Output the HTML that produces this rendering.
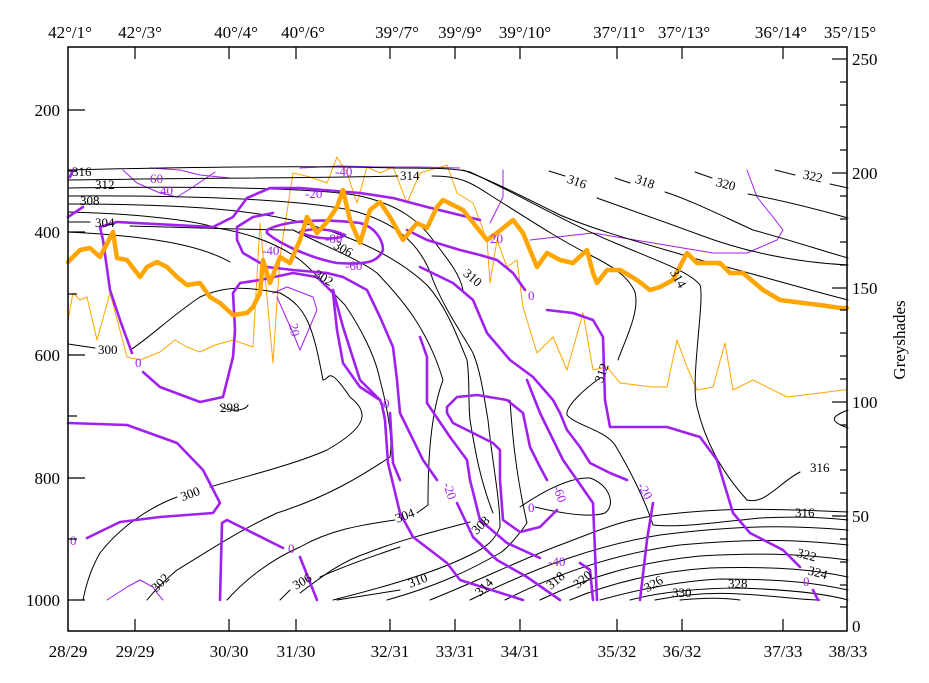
<!DOCTYPE html>
<html><head><meta charset="utf-8"><style>
body{margin:0;background:#fff}
svg{display:block}
text{font-family:"Liberation Serif",serif}
</style></head><body>
<svg width="929" height="683" viewBox="0 0 929 683" xmlns="http://www.w3.org/2000/svg">
<rect width="929" height="683" fill="#fff"/>
<g fill="none" stroke-linejoin="round" stroke-linecap="round">
<!-- thin orange -->
<polyline stroke="#ffa500" stroke-width="1" points="68,320 73,293 80,300 87,297 97,340 110,293 127,357 140,360 160,352 175,340 187,347 200,352 215,345 233,340 253,347 260,223 267,297 273,363 280,257 293,173 310,177 327,183 337,157 347,173 357,203 367,167 380,173 393,167 407,203 420,173 447,165 457,193 473,203 487,240 490,283 497,240 507,267 517,260 523,307 537,353 553,337 567,370 583,313 593,370 607,367 620,383 653,387 667,387 677,340 687,367 697,390 713,387 725,343 733,390 753,380 787,397 820,393 843,390 847,390"/>
<!-- thin purple -->
<g stroke="#a020f0" stroke-width="1">
<polyline points="123,170 137,183 160,193 177,197 193,187 215,172"/>
<polyline points="150,168 180,170 200,175 230,178"/>
<polyline points="300,168 340,166 380,167 420,167 460,168"/>
<polyline points="747,170 757,197 773,217 783,230 777,240 747,253 713,253 653,243 593,233 530,240"/>
<polyline points="503,170 503,197 490,223"/>
<polyline points="273,293 287,287 313,297 317,310 300,350 293,333 277,297"/>
<polyline points="107,600 127,587 140,580 153,587 157,593 163,600"/>
</g>
<!-- black contours -->
<g stroke="#000" stroke-width="1">
<path d="M68,170 C150,168 300,165 395,168 C430,168 455,168 470,172 C520,195 570,225 620,245 C660,262 690,272 700,285 C705,300 690,380 697,407 C705,440 720,470 747,500 C765,505 780,482 800,472"/>
<path d="M68,180 C200,178 330,178 398,176 M432,176 C460,176 470,182 490,195 C525,217 560,240 590,255 C612,266 628,276 635,292 C640,312 625,340 618,360 M600,378 C590,385 565,405 567,415 C575,425 605,430 615,445 C630,470 645,500 653,525 C680,528 720,522 760,518 C800,516 830,518 848,520"/>
<path d="M463,170 C490,180 520,195 560,215 C600,232 650,245 700,260 C740,270 790,285 848,300"/>
<path d="M549,171 L565,176 M597,198 C630,210 660,220 700,235 C740,250 790,262 848,265"/>
<path d="M615,178 L630,183 M665,192 C690,200 720,215 753,230 C790,240 820,250 848,258"/>
<path d="M695,172 L712,178 M748,194 C780,200 820,210 848,218"/>
<path d="M775,170 L795,175 M830,184 L848,188"/>
<path d="M68,188 C200,186 320,188 360,196 C400,205 420,222 433,240 C450,262 460,275 463,290"/>
<path d="M68,196 C200,195 300,200 350,210 C390,220 420,240 433,280 C445,310 460,330 473,353 C480,370 483,390 488,420 C492,460 500,500 500,527 C495,540 487,547 470,555 C440,570 400,583 333,600"/>
<path d="M68,204 C200,204 260,212 300,222 C360,238 400,260 427,285 C445,305 455,330 467,360 C470,380 468,400 470,420 C475,450 480,480 493,513 M470,522 C440,530 400,540 367,553 C340,562 320,578 300,593"/>
<path d="M68,212 C150,214 200,222 217,228 C247,233 277,243 300,260 C315,272 330,290 345,305 C360,327 375,355 380,380 C388,410 393,440 390,457 C360,477 327,497 277,513 C240,530 210,550 177,570 C165,580 155,590 147,600"/>
<path d="M68,222 L90,222 M130,226 C200,228 260,230 293,230 C327,247 360,260 377,273 C400,297 427,327 443,380 C428,420 428,480 428,505 L417,513 M395,520 C360,525 330,530 300,547 C270,560 245,580 227,600"/>
<path d="M68,232 C150,236 200,245 230,262"/>
<path d="M68,344 L95,348 M130,350 C147,340 170,317 200,297 C227,285 247,287 280,293 C307,307 313,327 323,380 C330,380 327,363 350,397 C370,413 367,427 327,450 C293,465 243,477 210,487 M177,497 C150,507 120,527 100,553 C90,570 85,590 83,600 L68,600"/>
<path d="M220,405 C225,412 245,412 248,405"/>
<path d="M400,547 C370,557 340,568 320,577 M290,590 L280,600"/>
<path d="M400,590 L337,600"/>
<path d="M510,400 C512,430 515,470 527,523 C515,540 505,550 500,553 C470,570 440,585 387,600"/>
<path d="M430,600 C480,580 520,560 560,545 C600,530 620,520 660,515 C720,508 760,508 848,512"/>
<path d="M470,600 C540,565 600,545 660,535 C740,525 790,525 848,530"/>
<path d="M505,600 C560,572 620,553 680,545 C760,538 800,540 848,545"/>
<path d="M540,600 C590,576 640,562 700,556 C770,552 810,555 848,560"/>
<path d="M570,600 C610,583 660,571 710,568 C780,566 815,570 848,577"/>
<path d="M600,600 C640,589 680,581 720,579 C790,579 820,584 848,590"/>
<path d="M630,600 C660,592 700,588 740,588 C800,590 830,595 848,600"/>
<path d="M655,600 C680,595 710,592 740,594 C780,596 800,600 820,600"/>
<path d="M680,600 C700,598 720,597 740,600"/>
<path d="M520,507 C545,490 570,477 590,478 C610,485 616,505 605,513 C590,518 560,513 535,507"/>
<path d="M848,410 C835,415 825,420 848,428"/>
</g>
<!-- thick purple -->
<g stroke="#a020f0" stroke-width="2.6">
<polyline points="103,240 100,227 117,222 213,227 233,217 247,198 270,188 300,188 360,193 393,198 427,207 480,220"/>
<polyline points="103,240 110,290 120,320 132,353"/>
<polyline points="143,372 160,387 200,402 223,397 233,357 235,330 233,293 240,283 260,280 293,273 317,277 333,293 337,330 343,363 360,387 380,400"/>
<polyline points="390,413 393,463 400,480"/>
<polyline points="68,423 127,425 177,443 203,470 220,503 213,513 160,517 120,522 87,538"/>
<polyline points="220,600 222,523 227,520 247,530 283,548"/>
<polyline points="300,557 317,600"/>
<path d="M267,230 C280,223 310,217 360,223 C375,227 383,240 383,250 C378,262 367,265 337,263 C310,258 280,244 267,233Z"/>
<path d="M300,232 C310,228 330,228 345,235 C340,240 315,240 300,232Z"/>
<polyline points="273,213 253,217 237,227 237,240 243,253 267,267 293,270 327,273 343,277 367,290 380,317 393,347 397,380 400,413 423,460 437,480"/>
<polyline points="333,290 343,327 360,380 380,400 382,405 385,420 388,463 400,513 413,537 447,563 460,580 523,600"/>
<polyline points="407,230 427,240 460,250 480,255 497,260 513,273 525,290"/>
<polyline points="547,310 573,313 593,320 603,337 605,400 610,427 667,427 700,437 717,460 733,513 750,533 783,550 800,567"/>
<polyline points="813,590 818,600"/>
<polyline points="420,267 453,283 473,300 487,333 510,360 533,377 553,400 560,413 567,430 580,447 590,463 610,473 627,480"/>
<polyline points="653,503 647,540 640,600"/>
<polyline points="420,337 427,357 427,403 450,437 467,460 470,480 480,520 507,543 540,558"/>
<polyline points="580,563 590,570 593,600"/>
<polyline points="457,503 473,537 497,560 527,577 560,600"/>
<polyline points="447,407 457,397 477,395 507,400 523,413 530,447 540,467 547,480"/>
<polyline points="557,510 540,527 520,532 503,520 500,480 500,450 493,443 473,433 453,423 447,413 447,407"/>
<polyline points="527,380 540,413 563,460 577,480 593,503 597,600"/>
<polyline points="68,217 83,207"/>
<polyline points="70,177 73,170"/>
</g>
<!-- thick orange -->
<polyline stroke="#ffa500" stroke-width="4.5" points="68,262 80,250 90,248 100,257 113,232 117,258 127,260 140,277 147,267 157,262 167,267 177,277 187,285 200,283 210,297 220,303 233,315 247,313 253,307 260,293 263,260 270,283 280,257 290,263 300,240 307,217 317,233 327,222 337,207 343,190 350,220 360,243 370,210 380,202 390,217 403,240 417,223 427,228 437,207 443,200 463,210 487,240 497,233 513,220 523,233 537,267 547,253 560,260 573,263 587,250 593,273 597,283 607,270 620,270 637,280 650,290 660,287 673,280 687,253 697,263 720,263 730,273 743,273 763,290 780,300 803,303 820,305 840,308 847,308"/>
</g>
<!-- contour labels -->
<g font-size="13" fill="#000">
<text x="72" y="176">316</text><text x="95" y="189">312</text><text x="80" y="205">308</text><text x="95" y="227">304</text>
<text x="400" y="180">314</text><text x="567" y="187" transform="rotate(20 580 183)">316</text>
<text x="635" y="187" transform="rotate(20 648 183)">318</text><text x="716" y="189" transform="rotate(15 728 185)">320</text>
<text x="803" y="181" transform="rotate(12 815 177)">322</text>
<text x="98" y="354">300</text><text x="220" y="412">298</text>
<text x="180" y="497" transform="rotate(-20 193 492)">300</text><text x="150" y="587" transform="rotate(-45 160 582)">302</text>
<text x="395" y="519" transform="rotate(-20 407 515)">304</text><text x="292" y="584" transform="rotate(-30 305 580)">306</text>
<text x="470" y="527" transform="rotate(-45 483 523)">308</text><text x="408" y="584" transform="rotate(-20 420 580)">310</text>
<text x="473" y="590" transform="rotate(-45 485 585)">314</text><text x="546" y="583" transform="rotate(-40 558 580)">318</text>
<text x="572" y="583" transform="rotate(-40 583 578)">320</text><text x="643" y="587" transform="rotate(-30 655 582)">326</text>
<text x="728" y="588">328</text><text x="672" y="597">330</text>
<text x="795" y="517">316</text><text x="810" y="472">316</text>
<text x="797" y="560" transform="rotate(15 810 555)">322</text><text x="808" y="578" transform="rotate(15 822 573)">324</text>
<text x="313" y="283" transform="rotate(30 325 280)">302</text><text x="333" y="254" transform="rotate(30 345 250)">306</text>
<text x="462" y="284" transform="rotate(40 475 280)">310</text><text x="668" y="285" transform="rotate(60 680 280)">314</text>
<text x="590" y="374" transform="rotate(-70 603 370)">312</text>
</g>
<g font-size="13" fill="#a020f0">
<text x="150" y="183">60</text><text x="160" y="195">40</text><text x="335" y="176">-40</text><text x="305" y="198">-20</text>
<text x="325" y="243">-80</text><text x="345" y="270">-60</text><text x="262" y="255">-40</text>
<text x="490" y="243">20</text><text x="528" y="300">0</text><text x="284" y="330" transform="rotate(80 290 330)">20</text>
<text x="135" y="367">0</text><text x="383" y="408">0</text><text x="70" y="545">0</text><text x="288" y="553">0</text>
<text x="440" y="492" transform="rotate(70 447 490)">-20</text><text x="550" y="495" transform="rotate(70 557 493)">-60</text>
<text x="548" y="566">-40</text><text x="636" y="493" transform="rotate(60 643 490)">-20</text><text x="528" y="512">0</text>
<text x="803" y="586">0</text>
</g>
<!-- axes -->
<rect x="68" y="47" width="779" height="584" fill="none" stroke="#000" stroke-width="1.5"/>
<g stroke="#000" stroke-width="1.2">
<line x1="68" y1="110" x2="85" y2="110"/><line x1="68" y1="171" x2="77" y2="171"/>
<line x1="68" y1="232" x2="85" y2="232"/><line x1="68" y1="294" x2="77" y2="294"/>
<line x1="68" y1="355" x2="85" y2="355"/><line x1="68" y1="416" x2="77" y2="416"/>
<line x1="68" y1="478" x2="85" y2="478"/><line x1="68" y1="539" x2="77" y2="539"/>
<line x1="68" y1="600" x2="85" y2="600"/>
<line x1="135" y1="47" x2="135" y2="59"/><line x1="229" y1="47" x2="229" y2="59"/><line x1="296" y1="47" x2="296" y2="59"/>
<line x1="390" y1="47" x2="390" y2="59"/><line x1="455" y1="47" x2="455" y2="59"/><line x1="520" y1="47" x2="520" y2="59"/>
<line x1="617" y1="47" x2="617" y2="59"/><line x1="682" y1="47" x2="682" y2="59"/><line x1="783" y1="47" x2="783" y2="59"/>
<line x1="135" y1="631" x2="135" y2="619"/><line x1="229" y1="631" x2="229" y2="619"/><line x1="296" y1="631" x2="296" y2="619"/>
<line x1="390" y1="631" x2="390" y2="619"/><line x1="455" y1="631" x2="455" y2="619"/><line x1="520" y1="631" x2="520" y2="619"/>
<line x1="617" y1="631" x2="617" y2="619"/><line x1="682" y1="631" x2="682" y2="619"/><line x1="783" y1="631" x2="783" y2="619"/>
<line x1="847" y1="59" x2="832" y2="59"/><line x1="847" y1="82" x2="840" y2="82"/><line x1="847" y1="105" x2="840" y2="105"/><line x1="847" y1="127" x2="840" y2="127"/><line x1="847" y1="150" x2="840" y2="150"/>
<line x1="847" y1="173" x2="832" y2="173"/><line x1="847" y1="196" x2="840" y2="196"/><line x1="847" y1="219" x2="840" y2="219"/><line x1="847" y1="242" x2="840" y2="242"/><line x1="847" y1="265" x2="840" y2="265"/>
<line x1="847" y1="288" x2="832" y2="288"/><line x1="847" y1="310" x2="840" y2="310"/><line x1="847" y1="333" x2="840" y2="333"/><line x1="847" y1="356" x2="840" y2="356"/><line x1="847" y1="379" x2="840" y2="379"/>
<line x1="847" y1="402" x2="832" y2="402"/><line x1="847" y1="425" x2="840" y2="425"/><line x1="847" y1="447" x2="840" y2="447"/><line x1="847" y1="470" x2="840" y2="470"/><line x1="847" y1="493" x2="840" y2="493"/>
<line x1="847" y1="516" x2="832" y2="516"/><line x1="847" y1="539" x2="840" y2="539"/><line x1="847" y1="562" x2="840" y2="562"/><line x1="847" y1="585" x2="840" y2="585"/><line x1="847" y1="607" x2="840" y2="607"/>
</g>
<g font-size="17" fill="#000">
<g text-anchor="end">
<text x="60" y="116">200</text><text x="60" y="238">400</text><text x="60" y="361">600</text><text x="60" y="484">800</text><text x="60" y="606">1000</text>
</g>
<text x="852" y="65">250</text><text x="852" y="179">200</text><text x="852" y="294">150</text><text x="852" y="408">100</text><text x="852" y="522">50</text><text x="852" y="632">0</text>
<text transform="translate(905 340) rotate(-90)" text-anchor="middle">Greyshades</text>
<g text-anchor="middle">
<text x="70" y="38">42°/1°</text><text x="140" y="38">42°/3°</text><text x="236" y="38">40°/4°</text><text x="303" y="38">40°/6°</text>
<text x="397" y="38">39°/7°</text><text x="460" y="38">39°/9°</text><text x="525" y="38">39°/10°</text><text x="619" y="38">37°/11°</text>
<text x="684" y="38">37°/13°</text><text x="781" y="38">36°/14°</text><text x="850" y="38">35°/15°</text>
<text x="68" y="657">28/29</text><text x="135" y="657">29/29</text><text x="229" y="657">30/30</text><text x="296" y="657">31/30</text>
<text x="390" y="657">32/31</text><text x="455" y="657">33/31</text><text x="520" y="657">34/31</text><text x="617" y="657">35/32</text>
<text x="682" y="657">36/32</text><text x="783" y="657">37/33</text><text x="848" y="657">38/33</text>
</g>
</g>
</svg>
</body></html>
